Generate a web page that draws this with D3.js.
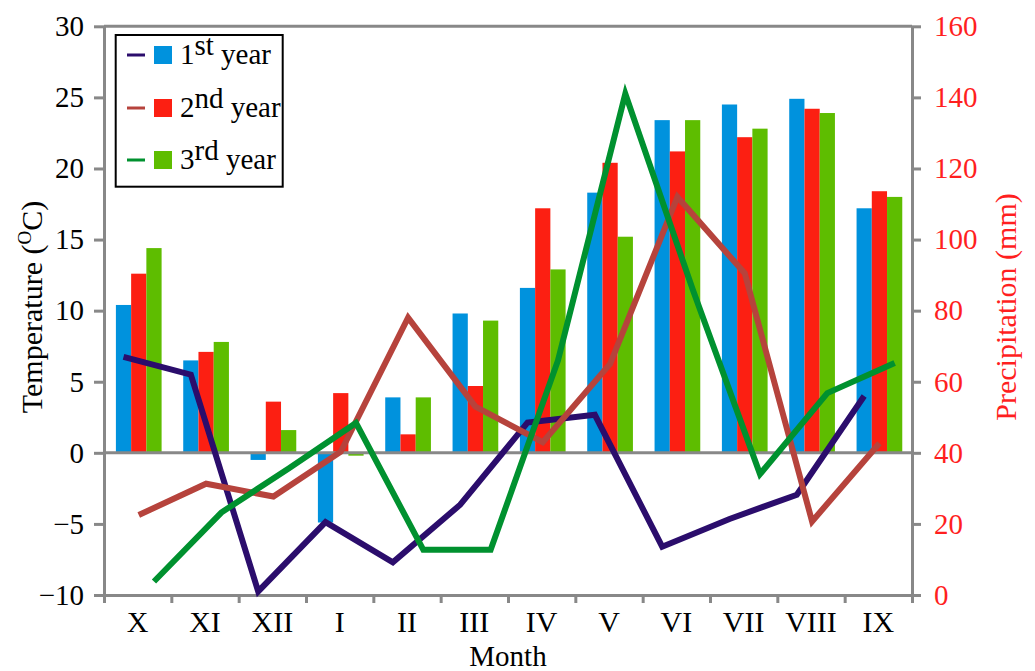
<!DOCTYPE html>
<html>
<head>
<meta charset="utf-8">
<script src="https://cdn.jsdelivr.net/npm/d3@7"></script>
<style>
    body{margin:0;background:#fff;}
</style>
</head>
<body>
<svg id="chart" width="1035" height="671"></svg>
<script>
// categories and series
let months = ["X", "XI", "XII", "I", "II", "III", "IV", "V", "VI", "VII", "VIII", "IX"];
let years = ["1st", "2nd", "3rd"];

// temperature, bars (left axis)
let temp1 = [10.4, 6.5, -0.5, -4.9, 3.9, 9.8, 11.6, 18.3, 23.4, 24.5, 24.9, 17.2];
let temp2 = [12.6, 7.1, 3.6, 4.2, 1.3, 4.7, 17.2, 20.4, 21.2, 22.2, 24.2, 18.4];
let temp3 = [14.4, 7.8, 1.6, -0.2, 3.9, 9.3, 12.9, 15.2, 23.4, 22.8, 23.9, 18.0];

// precipitation, lines (right axis)
let prec1 = [67, 62, 1, 20.5, 9.2, 25.4, 48.5, 50.7, 13.6, 21.4, 28.2, 56];
let prec2 = [22.5, 31.3, 27.7, 40.3, 78, 53, 43, 65, 112, 90.5, 20.7, 42.7];
let prec3 = [3.8, 23.2, 35.6, 48.4, 12.7, 12.7, 66, 141, 86, 34, 56.8, 65.3];

let tempTicks = [-10, -5, 0, 5, 10, 15, 20, 25, 30];
let precTicks = [0, 20, 40, 60, 80, 100, 120, 140, 160];

let barColors = ["#0092dd", "#fc1f12", "#5ebd00"];
let lineColors = ["#2b0d6c", "#b6433c", "#00912f"];
let axisColor = "#888888";
let precColor = "#ff1f1f";
let fontFamily = "'Liberation Serif', serif";
let fontSize = 29;

let plot = {left: 104, right: 912, top: 26.3, bottom: 595};

let series = years.map(function(year, i){
    return {
        year: year,
        temps: [temp1, temp2, temp3][i],
        precs: [prec1, prec2, prec3][i],
        bar: barColors[i],
        line: lineColors[i]
    };
});

let svg = d3.select("#chart")
    .style("font-family", fontFamily);

let x = d3.scaleBand()
    .domain(months)
    .range([plot.left, plot.right]);

let xSub = d3.scaleBand()
    .domain(years)
    .range([0, x.bandwidth()])
    .paddingOuter(0.71)
    .align(0.55);

let xEdge = d3.scaleLinear()
    .domain([0, months.length])
    .range([plot.left, plot.right]);

let yT = d3.scaleLinear()
    .domain([-10, 30])
    .range([plot.bottom, plot.top]);

let yP = d3.scaleLinear()
    .domain([0, 160])
    .range([plot.bottom, plot.top]);

function styleAxis(g, textColor){
    g.attr("font-family", null).attr("font-size", null);
    g.select(".domain").attr("stroke", axisColor).attr("stroke-width", 3);
    g.selectAll(".tick line").attr("stroke", axisColor).attr("stroke-width", 3);
    g.selectAll(".tick text")
        .attr("fill", textColor)
        .style("font-family", fontFamily)
        .style("font-size", fontSize + "px");
}

// bars
let barGroups = svg.append("g").selectAll(".bar-series")
    .data(series)
    .enter()
    .append("g")
    .attr("class", "bar-series")
    .attr("fill", function(d){ return d.bar; });

barGroups.selectAll("rect")
    .data(function(d){
        return d.temps.map(function(v, i){ return {month: months[i], year: d.year, value: v}; });
    })
    .enter()
    .append("rect")
    .attr("x", function(d){ return x(d.month) + xSub(d.year); })
    .attr("width", xSub.bandwidth())
    .attr("y", function(d){ return yT(Math.max(0, d.value)); })
    .attr("height", function(d){ return Math.abs(yT(d.value) - yT(0)); });

// frame top + zero line
svg.append("line")
    .attr("x1", plot.left).attr("x2", plot.right)
    .attr("y1", plot.top).attr("y2", plot.top)
    .attr("stroke", axisColor).attr("stroke-width", 3);

svg.append("line")
    .attr("x1", plot.left).attr("x2", plot.right)
    .attr("y1", yT(0)).attr("y2", yT(0))
    .attr("stroke", axisColor).attr("stroke-width", 3);

// axes
svg.append("g")
    .attr("transform", "translate(" + plot.left + ",0)")
    .call(d3.axisLeft(yT).tickValues(tempTicks).tickSize(10).tickSizeOuter(0).tickPadding(10))
    .call(function(g){ styleAxis(g, "#000"); });

svg.append("g")
    .attr("transform", "translate(" + plot.right + ",0)")
    .call(d3.axisRight(yP).tickValues(precTicks).tickSize(9).tickSizeOuter(0).tickPadding(13))
    .call(function(g){ styleAxis(g, precColor); });

svg.append("g")
    .attr("transform", "translate(0," + plot.bottom + ")")
    .call(d3.axisBottom(xEdge).tickValues(d3.range(months.length + 1)).tickSize(8).tickSizeOuter(0).tickFormat(""))
    .call(function(g){ styleAxis(g, "#000"); });

svg.append("g")
    .attr("transform", "translate(0," + plot.bottom + ")")
    .call(d3.axisBottom(x).tickSize(0).tickPadding(15.7))
    .call(function(g){
        styleAxis(g, "#000");
        g.select(".domain").remove();
        g.selectAll(".tick text").style("font-size", "30px");
    });

// precipitation lines
let line = function(year){
    return d3.line()
        .x(function(d, i){ return x(months[i]) + xSub(year) + xSub.bandwidth() / 2; })
        .y(function(d){ return yP(d); });
};

svg.append("g").selectAll(".plot-line")
    .data(series)
    .enter()
    .append("path")
    .attr("class", "plot-line")
    .attr("fill", "none")
    .attr("stroke", function(d){ return d.line; })
    .attr("stroke-width", 6)
    .attr("d", function(d){ return line(d.year)(d.precs); });

// axis titles
let tTitle = svg.append("text")
    .attr("transform", "translate(42,307) rotate(-90)")
    .attr("text-anchor", "middle")
    .style("font-family", fontFamily)
    .style("font-size", "30px")
    .attr("fill", "#000");
tTitle.append("tspan").text("Temperature (");
tTitle.append("tspan").attr("dy", -11).style("font-size", "19px").text("O");
tTitle.append("tspan").attr("dy", 11).text("C)");

svg.append("text")
    .attr("transform", "translate(1016,307) rotate(-90)")
    .attr("text-anchor", "middle")
    .style("font-family", fontFamily)
    .style("font-size", "30px")
    .attr("fill", precColor)
    .text("Precipitation (mm)");

svg.append("text")
    .attr("x", (plot.left + plot.right) / 2)
    .attr("y", 666)
    .attr("text-anchor", "middle")
    .style("font-family", fontFamily)
    .style("font-size", fontSize + "px")
    .attr("fill", "#000")
    .text("Month");

// legend
let legend = svg.append("g");
let rowY = [55, 108, 160];

let rows = legend.selectAll(".legend-row")
    .data(series)
    .enter()
    .append("g")
    .attr("class", "legend-row")
    .attr("transform", function(d, i){ return "translate(0," + rowY[i] + ")"; });

rows.append("line")
    .attr("x1", 127).attr("x2", 145)
    .attr("stroke", function(d){ return d.line; })
    .attr("stroke-width", 3);

rows.append("rect")
    .attr("x", 154).attr("y", -9)
    .attr("width", 18).attr("height", 18)
    .attr("fill", function(d){ return d.bar; });

let labels = rows.append("text")
    .attr("x", 180)
    .attr("y", 8.5)
    .style("font-family", fontFamily)
    .style("font-size", fontSize + "px")
    .attr("fill", "#000");
labels.append("tspan").text(function(d){ return d.year.charAt(0); });
labels.append("tspan").attr("dy", -9).text(function(d){ return d.year.slice(1); });
labels.append("tspan").attr("dy", 9).text(" year");

legend.append("rect")
    .attr("x", 115.7).attr("y", 35)
    .attr("width", 167).attr("height", 151.7)
    .attr("fill", "none")
    .attr("stroke", "#000")
    .attr("stroke-width", 2);
</script>
</body>
</html>
